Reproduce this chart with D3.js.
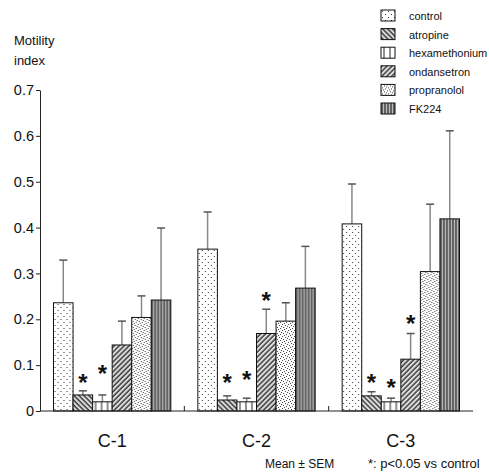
<!DOCTYPE html>
<html>
<head>
<meta charset="utf-8">
<script src="https://cdn.jsdelivr.net/npm/d3@7"></script>
<style>
    body { margin: 0; background: #fff; }
    svg text { font-family: "Liberation Sans", Arial, sans-serif; fill: #111; }
</style>
</head>
<body>
<div id="graph"></div>
<script>
"use strict";
(function() {
    const svgSize = {
        width : 489,
        height: 475,
    };

    // chart data (motility index, mean and SEM)
    const groups = ["C-1", "C-2", "C-3"];
    const treatments = ["control", "atropine", "hexamethonium", "ondansetron", "propranolol", "FK224"];
    const meanC1 = [0.236, 0.035, 0.020, 0.144, 0.204, 0.242];
    const meanC2 = [0.353, 0.024, 0.020, 0.169, 0.196, 0.268];
    const meanC3 = [0.408, 0.033, 0.020, 0.113, 0.304, 0.419];
    const semC1 = [0.093, 0.009, 0.015, 0.052, 0.047, 0.157];
    const semC2 = [0.081, 0.009, 0.008, 0.053, 0.040, 0.091];
    const semC3 = [0.087, 0.009, 0.008, 0.056, 0.147, 0.192];
    const yTicks = [0, 0.1, 0.2, 0.3, 0.4, 0.5, 0.6, 0.7];
    // significance marks: group, treatment, height of the star
    const stars = [
        ["C-1", "atropine", 0.072], ["C-1", "hexamethonium", 0.092],
        ["C-2", "atropine", 0.072], ["C-2", "hexamethonium", 0.078], ["C-2", "ondansetron", 0.250],
        ["C-3", "atropine", 0.072], ["C-3", "hexamethonium", 0.061], ["C-3", "ondansetron", 0.200],
    ];

    window.addEventListener("load", init);

    function init() {
        let means = [meanC1, meanC2, meanC3];
        let sems = [semC1, semC2, semC3];
        let rows = [];
        groups.forEach((g, gi) => {
            treatments.forEach((t, ti) => {
                rows.push({group: g, treatment: t, mean: means[gi][ti], sem: sems[gi][ti]});
            });
        });

        let svg = d3.select("#graph")
                        .append("svg")
                            .attr("width", svgSize.width)
                            .attr("height", svgSize.height);

        makePatterns(svg.append("defs"));

        let x0 = d3.scaleBand().domain(groups).range([40, 473]);
        let x1 = d3.scaleBand().domain(treatments).range([13.5, x0.bandwidth() - 13.5]);
        let y = d3.scaleLinear().domain([0, 0.7]).range([411, 90]);

        // y axis
        let yAxis = svg.append("g")
                        .attr("transform", "translate(40,0)")
                        .call(d3.axisLeft(y).tickValues(yTicks).tickSize(4).tickSizeOuter(0)
                                .tickFormat(d => d === 0 ? "0" : d.toFixed(1)));
        yAxis.selectAll("text").attr("font-size", 14.5).attr("x", -6)
                .style("font-family", "'Liberation Sans', Arial, sans-serif");
        yAxis.selectAll("line, path").attr("stroke", "#222");

        svg.append("text").attr("x", 14).attr("y", 45).attr("font-size", 13).text("Motility");
        svg.append("text").attr("x", 14).attr("y", 65).attr("font-size", 13).text("index");

        // bars
        let bar = svg.append("g").selectAll("g")
                        .data(rows)
                        .enter()
                        .append("g")
                            .attr("transform", d => "translate(" + (x0(d.group) + x1(d.treatment)) + ",0)");

        bar.append("line")
                .attr("x1", x1.bandwidth() / 2).attr("x2", x1.bandwidth() / 2)
                .attr("y1", d => y(d.mean)).attr("y2", d => y(d.mean + d.sem))
                .attr("stroke", "#888").attr("stroke-width", 1.5);
        bar.append("line")
                .attr("x1", x1.bandwidth() / 2 - 4).attr("x2", x1.bandwidth() / 2 + 4)
                .attr("y1", d => y(d.mean + d.sem)).attr("y2", d => y(d.mean + d.sem))
                .attr("stroke", "#555").attr("stroke-width", 1.5);
        bar.append("rect")
                .attr("x", 0).attr("width", x1.bandwidth())
                .attr("y", d => y(d.mean)).attr("height", d => y(0) - y(d.mean))
                .attr("fill", d => "url(#pat-" + d.treatment + ")")
                .attr("stroke", "#111").attr("stroke-width", 1);

        // x axis
        svg.append("line").attr("x1", 40).attr("x2", 473).attr("y1", y(0)).attr("y2", y(0))
                .attr("stroke", "#222");
        svg.selectAll(".gtick").data(groups.slice(1)).enter().append("line")
                .attr("x1", d => x0(d)).attr("x2", d => x0(d))
                .attr("y1", y(0)).attr("y2", y(0) - 5).attr("stroke", "#222");
        svg.selectAll(".glabel").data(groups).enter().append("text")
                .attr("x", d => x0(d) + x0.bandwidth() / 2).attr("y", 447)
                .attr("text-anchor", "middle").attr("font-size", 18).text(d => d);

        // significance stars
        svg.selectAll(".star").data(stars).enter().append("text")
                .attr("x", d => x0(d[0]) + x1(d[1]) + x1.bandwidth() / 2)
                .attr("y", d => y(d[2]) + 13)
                .attr("text-anchor", "middle").attr("font-size", 24).attr("font-weight", "bold")
                .text("*");

        // legend
        let lgd = svg.append("g").selectAll("g")
                        .data(treatments)
                        .enter()
                        .append("g")
                            .attr("transform", (d, i) => "translate(381," + (10 + i * 18.6) + ")");
        lgd.append("rect").attr("width", 14).attr("height", 11)
                .attr("fill", d => "url(#pat-" + d + ")").attr("stroke", "#111");
        lgd.append("text").attr("x", 28).attr("y", 10).attr("font-size", 11).text(d => d);

        svg.append("text").attr("x", 265).attr("y", 468).attr("font-size", 12).text("Mean \u00b1 SEM");
        svg.append("text").attr("x", 368).attr("y", 468).attr("font-size", 13).text("*: p<0.05 vs control");
    }

    /* --- HELPER FUNCTIONS --- */

    function makePatterns(defs) {
        // control: sparse dots
        let p = defs.append("pattern").attr("id", "pat-control")
                    .attr("patternUnits", "userSpaceOnUse").attr("width", 6).attr("height", 6);
        p.append("rect").attr("width", 6).attr("height", 6).attr("fill", "#fff");
        p.append("rect").attr("x", 1).attr("y", 1).attr("width", 1).attr("height", 1).attr("fill", "#333");
        p.append("rect").attr("x", 4).attr("y", 4).attr("width", 1).attr("height", 1).attr("fill", "#333");

        // atropine and ondansetron: diagonal hatch
        hatch(defs, "pat-atropine", -45);
        hatch(defs, "pat-ondansetron", 45);

        // hexamethonium: wide vertical lines
        p = defs.append("pattern").attr("id", "pat-hexamethonium")
                .attr("patternUnits", "userSpaceOnUse").attr("width", 6).attr("height", 6);
        p.append("rect").attr("width", 6).attr("height", 6).attr("fill", "#fff");
        p.append("line").attr("x1", 3).attr("x2", 3).attr("y1", 0).attr("y2", 6)
                .attr("stroke", "#222").attr("stroke-width", 1);

        // propranolol: dense stipple
        p = defs.append("pattern").attr("id", "pat-propranolol")
                .attr("patternUnits", "userSpaceOnUse").attr("width", 6).attr("height", 6);
        p.append("rect").attr("width", 6).attr("height", 6).attr("fill", "#fff");
        [[0, 0], [3, 1], [1, 3], [4, 4], [5, 2], [2, 5]].forEach(pt => {
            p.append("rect").attr("x", pt[0]).attr("y", pt[1]).attr("width", 1).attr("height", 1)
                    .attr("fill", "#444");
        });

        // FK224: dense vertical lines
        p = defs.append("pattern").attr("id", "pat-FK224")
                .attr("patternUnits", "userSpaceOnUse").attr("width", 3).attr("height", 3);
        p.append("rect").attr("width", 3).attr("height", 3).attr("fill", "#bbb");
        p.append("line").attr("x1", 1).attr("x2", 1).attr("y1", 0).attr("y2", 3)
                .attr("stroke", "#333").attr("stroke-width", 1.3);
    }

    function hatch(defs, name, angle) {
        let p = defs.append("pattern").attr("id", name)
                    .attr("patternUnits", "userSpaceOnUse").attr("width", 3.5).attr("height", 3.5)
                    .attr("patternTransform", "rotate(" + angle + ")");
        p.append("rect").attr("width", 3.5).attr("height", 3.5).attr("fill", "#ddd");
        p.append("line").attr("x1", 1).attr("x2", 1).attr("y1", 0).attr("y2", 3.5)
                .attr("stroke", "#333").attr("stroke-width", 1.4);
    }

})();
</script>
</body>
</html>
